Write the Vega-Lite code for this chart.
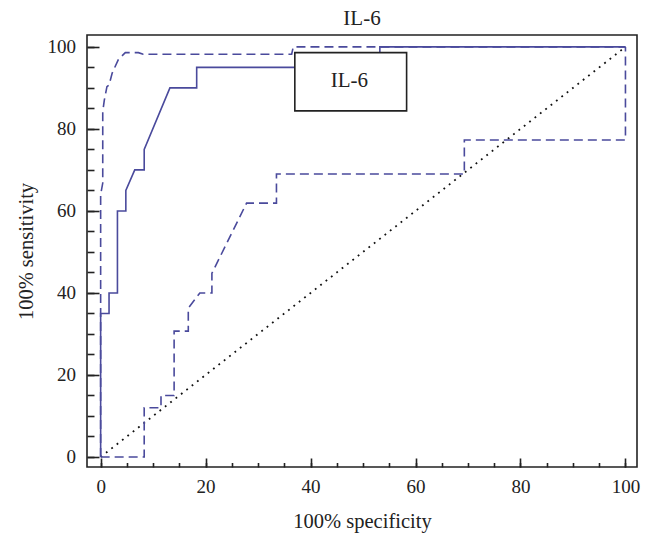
{
  "$schema": "https://vega.github.io/schema/vega-lite/v6.json",
  "width": 550,
  "height": 432,
  "autosize": "none",
  "padding": {"left": 87, "top": 35, "right": 16, "bottom": 79},
  "background": "white",
  "title": {"text": "IL-6", "font": "Liberation Serif", "fontSize": 21, "fontWeight": "normal", "color": "#222", "offset": 6, "anchor": "middle", "frame": "group"},
  "config": {
    "view": {"stroke": "#222", "strokeWidth": 1.6},
    "axis": {
      "grid": false, "domain": false,
      "labelFont": "Liberation Serif", "labelFontSize": 19, "labelColor": "#222",
      "titleFont": "Liberation Serif", "titleFontSize": 20.5, "titleFontWeight": "normal", "titleColor": "#222",
      "tickColor": "#222", "tickWidth": 1.6
    }
  },
  "datasets": {
    "roc": [
      {"i": 0, "x": 0, "y": 0}, {"i": 1, "x": 0, "y": 35}, {"i": 2, "x": 1.6, "y": 35}, {"i": 3, "x": 1.6, "y": 40},
      {"i": 4, "x": 3.2, "y": 40}, {"i": 5, "x": 3.2, "y": 60}, {"i": 6, "x": 4.8, "y": 60}, {"i": 7, "x": 4.8, "y": 65},
      {"i": 8, "x": 6.5, "y": 70}, {"i": 9, "x": 8.3, "y": 70}, {"i": 10, "x": 8.3, "y": 75}, {"i": 11, "x": 13.2, "y": 90},
      {"i": 12, "x": 18.3, "y": 90}, {"i": 13, "x": 18.3, "y": 95}, {"i": 14, "x": 53.2, "y": 95}, {"i": 15, "x": 53.2, "y": 100},
      {"i": 16, "x": 100, "y": 100}
    ],
    "upper": [
      {"i": 0, "x": 0, "y": 0}, {"i": 1, "x": 0, "y": 64}, {"i": 2, "x": 0.4, "y": 66.8}, {"i": 3, "x": 0.4, "y": 84.2},
      {"i": 4, "x": 0.7, "y": 87}, {"i": 5, "x": 1.2, "y": 90.3}, {"i": 6, "x": 1.6, "y": 90.7}, {"i": 7, "x": 2.2, "y": 93.6},
      {"i": 8, "x": 3.4, "y": 97}, {"i": 9, "x": 4.7, "y": 98.6}, {"i": 10, "x": 7.2, "y": 98.6}, {"i": 11, "x": 8.1, "y": 98.2},
      {"i": 12, "x": 36.4, "y": 98.2}, {"i": 13, "x": 36.7, "y": 100}, {"i": 14, "x": 100, "y": 100}
    ],
    "lower": [
      {"i": 0, "x": 0, "y": 0}, {"i": 1, "x": 8.3, "y": 0}, {"i": 2, "x": 8.3, "y": 12}, {"i": 3, "x": 11.5, "y": 12},
      {"i": 4, "x": 11.5, "y": 15}, {"i": 5, "x": 14, "y": 15}, {"i": 6, "x": 14, "y": 30.7}, {"i": 7, "x": 16.7, "y": 30.7},
      {"i": 8, "x": 16.7, "y": 36.3}, {"i": 9, "x": 18.9, "y": 40}, {"i": 10, "x": 21.2, "y": 40}, {"i": 11, "x": 21.2, "y": 44.8},
      {"i": 12, "x": 27.8, "y": 61.9}, {"i": 13, "x": 33.5, "y": 61.9}, {"i": 14, "x": 33.5, "y": 69}, {"i": 15, "x": 69.3, "y": 69},
      {"i": 16, "x": 69.3, "y": 77.3}, {"i": 17, "x": 100, "y": 77.3}, {"i": 18, "x": 100, "y": 100}
    ],
    "diag": [{"i": 0, "x": 0, "y": 0}, {"i": 1, "x": 100, "y": 100}],
    "box": [{"x": 37, "x2": 58.3, "y": 98.6, "y2": 84.4, "xm": 47.4, "ym": 90.2, "label": "IL-6"}]
  },
  "layer": [
    {
      "data": {"name": "diag"},
      "mark": {"type": "line", "color": "#111", "strokeWidth": 1.8, "strokeDash": [1.8, 5], "strokeCap": "butt"},
      "encoding": {
        "x": {"field": "x", "type": "quantitative", "scale": {"domain": [-2.6, 102.2], "nice": false, "zero": false},
              "axis": {"orient": "bottom", "values": [0, 20, 40, 60, 80, 100], "tickSize": -9, "labelPadding": 19.6, "title": "100% specificity", "titlePadding": 15}},
        "y": {"field": "y", "type": "quantitative", "scale": {"domain": [-2.44, 102.9], "nice": false, "zero": false},
              "axis": {"orient": "left", "values": [0, 20, 40, 60, 80, 100], "tickSize": -12, "labelPadding": 23.5, "title": "100% sensitivity", "titlePadding": 11}},
        "order": {"field": "i"}
      }
    },
    {
      "data": {"name": "lower"},
      "mark": {"type": "line", "color": "#4a4a9c", "strokeWidth": 1.6, "strokeDash": [9, 5]},
      "encoding": {
        "x": {"field": "x", "type": "quantitative",
              "axis": {"orient": "bottom", "values": [0, 5, 10, 15, 20, 25, 30, 35, 40, 45, 50, 55, 60, 65, 70, 75, 80, 85, 90, 95, 100], "tickSize": -4.5, "labels": false, "title": null}},
        "y": {"field": "y", "type": "quantitative",
              "axis": {"orient": "left", "values": [0, 5, 10, 15, 20, 25, 30, 35, 40, 45, 50, 55, 60, 65, 70, 75, 80, 85, 90, 95, 100], "tickSize": -7, "labels": false, "title": null}},
        "order": {"field": "i"}
      }
    },
    {
      "data": {"name": "upper"},
      "mark": {"type": "line", "color": "#4a4a9c", "strokeWidth": 1.6, "strokeDash": [9, 5]},
      "encoding": {
        "x": {"field": "x", "type": "quantitative", "axis": null},
        "y": {"field": "y", "type": "quantitative", "axis": null},
        "order": {"field": "i"}
      }
    },
    {
      "data": {"name": "roc"},
      "mark": {"type": "line", "color": "#4a4a9c", "strokeWidth": 1.6},
      "encoding": {
        "x": {"field": "x", "type": "quantitative", "axis": null},
        "y": {"field": "y", "type": "quantitative", "axis": null},
        "order": {"field": "i"}
      }
    },
    {
      "data": {"name": "box"},
      "mark": {"type": "rect", "fill": "white", "stroke": "#222", "strokeWidth": 1.6},
      "encoding": {
        "x": {"field": "x", "type": "quantitative", "axis": null},
        "x2": {"field": "x2"},
        "y": {"field": "y", "type": "quantitative", "axis": null},
        "y2": {"field": "y2"}
      }
    },
    {
      "data": {"name": "box"},
      "mark": {"type": "text", "font": "Liberation Serif", "fontSize": 21, "color": "#222", "align": "center", "baseline": "alphabetic"},
      "encoding": {
        "x": {"field": "xm", "type": "quantitative", "axis": null},
        "y": {"field": "ym", "type": "quantitative", "axis": null},
        "text": {"field": "label"}
      }
    }
  ],
  "resolve": {"axis": {"x": "independent", "y": "independent"}}
}
